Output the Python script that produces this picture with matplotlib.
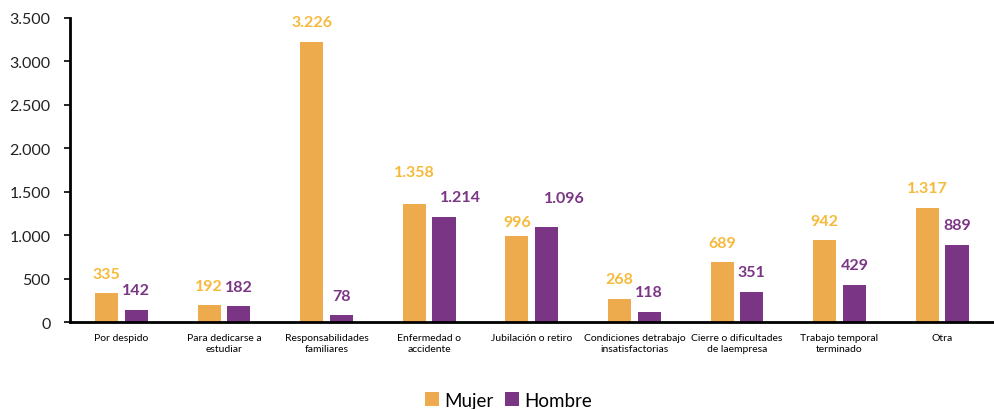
import matplotlib.pyplot as plt
import numpy as np
from matplotlib.ticker import MultipleLocator, FuncFormatter

plt.rcParams['font.family'] = ['Lato', 'DejaVu Sans']

categorias = ['Por despido', 'Para dedicarse a\nestudiar', 'Responsabilidades\nfamiliares',
              'Enfermedad o\naccidente', 'Jubilación o retiro', 'Condiciones detrabajo\ninsatisfactorias',
              'Cierre o dificultades\nde laempresa', 'Trabajo temporal\nterminado', 'Otra']
mujer = [335, 192, 3226, 1358, 996, 268, 689, 942, 1317]
hombre = [142, 182, 78, 1214, 1096, 118, 351, 429, 889]

col_mujer = '#EDAB4E'
col_hombre = '#7B3585'
col_lbl_mujer = '#F6B93B'

# etiquetas movidas a mano en el original (dx, dy en puntos)
ajuste_mujer = {3: (0, 9), 4: (0, -4)}
ajuste_hombre = {3: (12, 0), 4: (13, 7)}

def miles(v, pos=None):
    return '{:,.0f}'.format(v).replace(',', '.')

fig = plt.figure(figsize=(9.95, 4.10), dpi=100)
ax = fig.add_axes([0.0704, 0.212, 0.928, 0.742])

x = np.arange(len(categorias))
w = 0.225
off = 0.145
b1 = ax.bar(x - off, mujer, w, color=col_mujer, label='Mujer', zorder=2)
b2 = ax.bar(x + off, hombre, w, color=col_hombre, label='Hombre', zorder=2)

for i, (rect, v) in enumerate(zip(b1, mujer)):
    dx, dy = ajuste_mujer.get(i, (0, 0))
    ax.annotate(miles(v), (rect.get_x() + rect.get_width() / 2, v), xytext=(dx, 14 + dy),
                textcoords='offset points', ha='center', va='center',
                color=col_lbl_mujer, fontsize=11.5, fontweight='bold')
for i, (rect, v) in enumerate(zip(b2, hombre)):
    dx, dy = ajuste_hombre.get(i, (0, 0))
    ax.annotate(miles(v), (rect.get_x() + rect.get_width() / 2, v), xytext=(dx, 14 + dy),
                textcoords='offset points', ha='center', va='center',
                color=col_hombre, fontsize=11.5, fontweight='bold')

ax.set_xlim(-0.5, len(categorias) - 0.5)
ax.set_ylim(0, 3500)
ax.yaxis.set_major_locator(MultipleLocator(500))
ax.yaxis.set_major_formatter(FuncFormatter(miles))
ax.set_xticks(x)
ax.set_xticklabels(categorias, fontsize=7.5)

ax.spines['top'].set_visible(False)
ax.spines['right'].set_visible(False)
ax.spines['left'].set_linewidth(2)
ax.spines['bottom'].set_linewidth(2)
ax.tick_params(axis='y', labelsize=11.5, direction='out', length=4, width=1.2, pad=10, labelcolor='#222222')
ax.tick_params(axis='x', length=0, pad=8)

ax.legend(loc='lower center', bbox_to_anchor=(0.475, -0.34), ncol=2, frameon=False,
          fontsize=13.5, handlelength=0.75, handleheight=0.75, handletextpad=0.3, columnspacing=0.6)

fig.savefig('out.png', dpi=100)
